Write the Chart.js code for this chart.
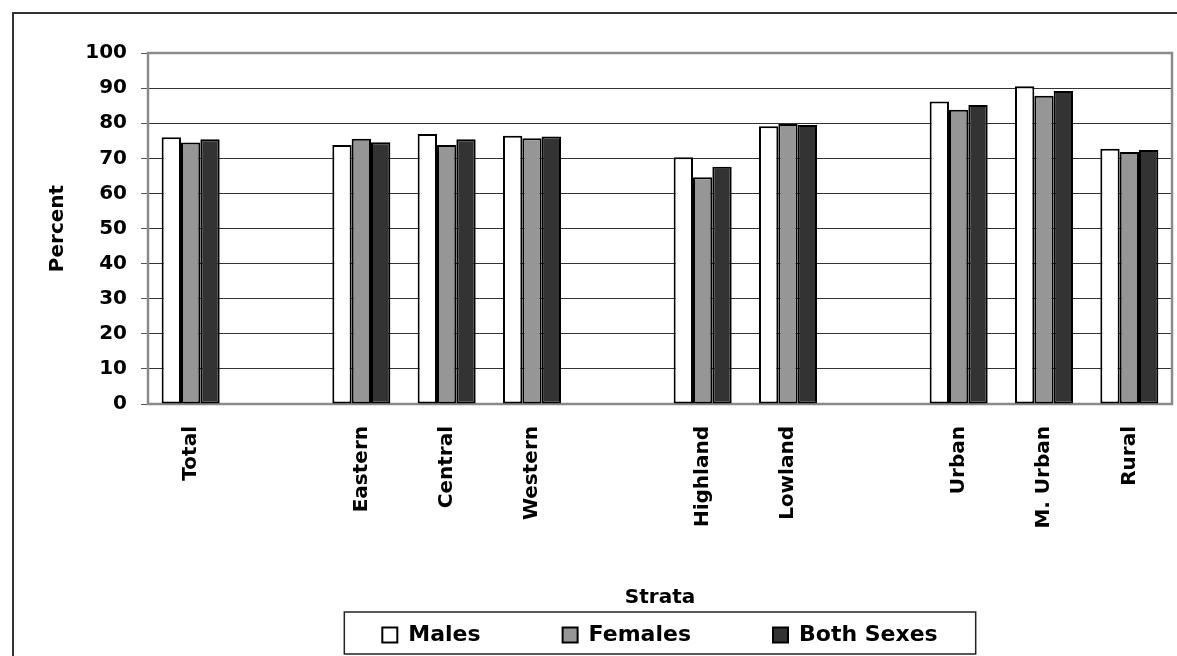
<!DOCTYPE html>
<html>
<head>
<meta charset="utf-8">
<script src="https://cdn.jsdelivr.net/npm/chart.js@4/dist/chart.umd.min.js"></script>
<style>
  html, body { margin: 0; padding: 0; background: #fff; overflow: hidden; }
  #wrap { position: relative; width: 1177px; height: 656px; }
  #frame { position: absolute; left: 12px; top: 12px; width: 1220px; height: 720px; border: 2px solid #333; }
  #chart { position: absolute; left: 0; top: 0; }
</style>
</head>
<body>
<div id="wrap">
  <div id="frame"></div>
  <canvas id="chart" width="1177" height="656"></canvas>
</div>
<script>
// strata, blank slots keep the gaps between groups
var strata = ['Total', '', 'Eastern', 'Central', 'Western', '', 'Highland', 'Lowland', '', 'Urban', 'M. Urban', 'Rural']
var males = [76.0, null, 73.8, 76.9, 76.4, null, 70.3, 79.1, null, 86.2, 90.5, 72.7]
var females = [74.5, null, 75.6, 73.8, 75.7, null, 64.6, 79.8, null, 83.8, 87.8, 71.8]
var bothSexes = [75.4, null, 74.6, 75.4, 76.2, null, 67.6, 79.5, null, 85.2, 89.2, 72.4]
var yTicks = [0, 10, 20, 30, 40, 50, 60, 70, 80, 90, 100]

var fontFamily = "'DejaVu Sans', sans-serif"

// grey box round the plot area, under the bars
var plotBorder = {
    id: 'plotBorder',
    beforeDatasetsDraw: function (chart) {
        var a = chart.chartArea
        var ctx = chart.ctx
        ctx.save()
        ctx.strokeStyle = '#8a8a8a'
        ctx.lineWidth = 2.5
        ctx.strokeRect(a.left, a.top, a.right - a.left, a.bottom - a.top)
        ctx.restore()
    }
}

// legend centred under the plot, with a box round it
var legendFrame = {
    id: 'legendFrame',
    afterUpdate: function (chart) {
        var lg = chart.legend
        var a = chart.chartArea
        var pad = lg.options.labels.padding
        var itemHeight = Math.max(lg.options.labels.font.size, lg.options.labels.boxHeight)
        lg._frame = { top: lg.top + 2, bottom: lg.bottom }
        lg.left = a.left
        lg.right = a.right
        lg.width = a.right - a.left
        var mid = (lg._frame.top + lg._frame.bottom) / 2 + 2
        lg.top = mid - itemHeight / 2 - pad
        lg.adjustHitBoxes()
    },
    afterDraw: function (chart) {
        var lg = chart.legend
        var hits = lg.legendHitBoxes
        if (!hits || !hits.length) return
        var last = hits[hits.length - 1]
        var left = hits[0].left - 38
        var right = last.left + last.width + 38
        var ctx = chart.ctx
        ctx.save()
        ctx.strokeStyle = '#222'
        ctx.lineWidth = 1.5
        ctx.strokeRect(left, lg._frame.top, right - left, lg._frame.bottom - lg._frame.top)
        ctx.restore()
    }
}

var barCanvas = document.getElementById('chart').getContext('2d')
new Chart(barCanvas, {
    type: 'bar',
    data: {
        labels: strata,
        datasets: [
            {
                label: 'Males',
                data: males,
                backgroundColor: '#ffffff',
                borderColor: '#000000',
                borderWidth: 2,
                borderSkipped: false
            },
            {
                label: 'Females',
                data: females,
                backgroundColor: '#969696',
                borderColor: '#000000',
                borderWidth: 2,
                borderSkipped: false
            },
            {
                label: 'Both Sexes',
                data: bothSexes,
                backgroundColor: '#333333',
                borderColor: '#000000',
                borderWidth: 2,
                borderSkipped: false
            }
        ]
    },
    options: {
        responsive: false,
        animation: false,
        layout: { padding: { left: 40, right: 5, top: 53, bottom: 2 } },
        datasets: {
            bar: { categoryPercentage: 0.68, barPercentage: 1.0 }
        },
        plugins: {
            tooltip: { enabled: false },
            legend: {
                position: 'bottom',
                maxHeight: 44,
                labels: {
                    color: '#000',
                    font: { family: fontFamily, size: 22, weight: 'bold' },
                    boxWidth: 15,
                    boxHeight: 15,
                    padding: 82
                }
            }
        },
        scales: {
            x: {
                grid: { display: false, drawTicks: false },
                border: { display: false },
                ticks: {
                    autoSkip: false,
                    maxRotation: 90,
                    minRotation: 90,
                    padding: 22,
                    color: '#000',
                    font: { family: fontFamily, size: 20, weight: 'bold' }
                },
                title: {
                    display: true,
                    text: 'Strata',
                    color: '#000',
                    padding: { top: 0, bottom: 0 },
                    font: { family: fontFamily, size: 20, weight: 'bold' }
                },
                afterFit: function (scale) { scale.height = 206 }
            },
            y: {
                min: 0,
                max: 100,
                afterBuildTicks: function (scale) {
                    scale.ticks = yTicks.map(function (v) { return { value: v } })
                },
                grid: { color: '#333', lineWidth: 1, tickLength: 7, tickColor: '#555' },
                border: { display: false },
                ticks: {
                    padding: 14,
                    color: '#000',
                    font: { family: fontFamily, size: 20, weight: 'bold' }
                },
                title: {
                    display: true,
                    text: 'Percent',
                    color: '#000',
                    padding: { top: 6, bottom: 0 },
                    font: { family: fontFamily, size: 20, weight: 'bold' }
                },
                afterFit: function (scale) { scale.width = 108 }
            }
        }
    },
    plugins: [plotBorder, legendFrame]
})
</script>
</body>
</html>
